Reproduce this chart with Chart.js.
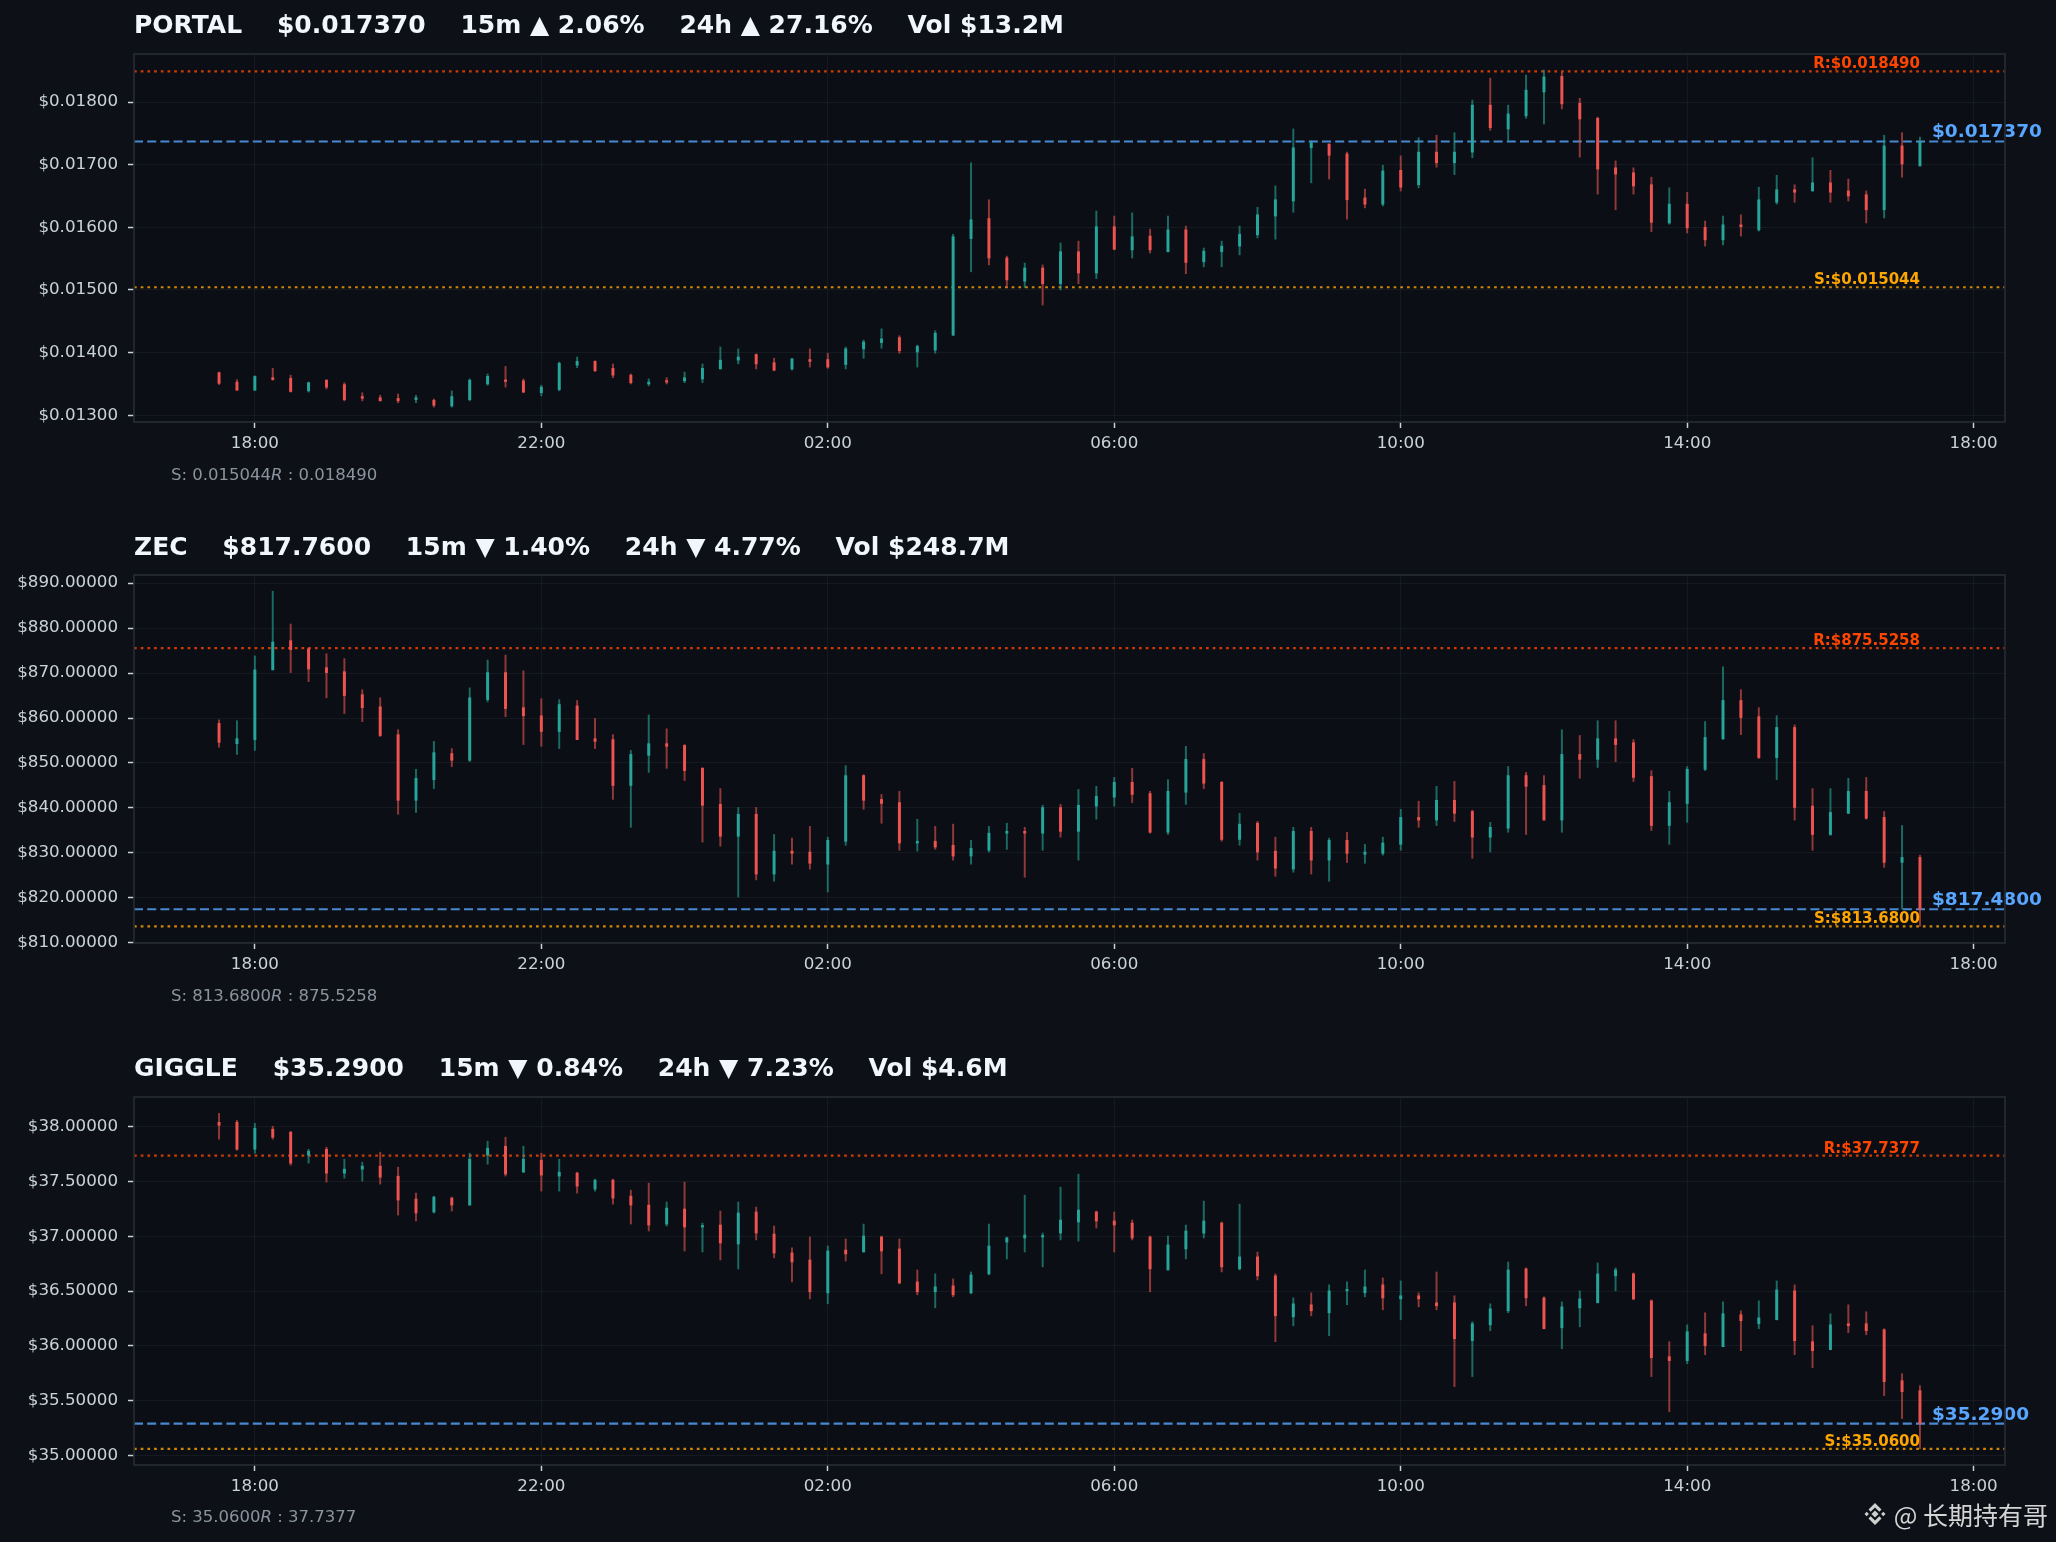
<!DOCTYPE html>
<html><head><meta charset="utf-8">
<script src="https://cdn.jsdelivr.net/npm/chart.js@4.4.1/dist/chart.umd.min.js"></script>
<style>
html,body{margin:0;padding:0;background:#0d1117;}
#root{position:relative;width:2056px;height:1542px;overflow:hidden;background:#0d1117;font-family:'DejaVu Sans',sans-serif;}
canvas{position:absolute;left:0;}
.title{position:absolute;left:134px;font-weight:bold;font-size:25px;line-height:29px;color:#f0f6fc;white-space:pre;}
.foot{position:absolute;left:171px;font-size:16.5px;line-height:19.2px;color:#8b949e;white-space:pre;}
#wm{position:absolute;right:8px;top:1499px;height:30px;display:flex;align-items:center;gap:5px;color:#d4d4d4;font-family:'Noto Sans CJK SC',sans-serif;font-size:25px;line-height:30px;}
</style></head>
<body><div id="root">
<canvas id="c1" width="2056" height="433" style="top:34px"></canvas>
<canvas id="c2" width="2056" height="433" style="top:555px"></canvas>
<canvas id="c3" width="2056" height="433" style="top:1077px"></canvas>
<div class="title" id="t1" style="top:10px"></div>
<div class="title" id="t2" style="top:531.5px"></div>
<div class="title" id="t3" style="top:1052.8px"></div>
<div class="foot" id="f1" style="top:464.7px"></div>
<div class="foot" id="f2" style="top:986px"></div>
<div class="foot" id="f3" style="top:1507.3px"></div>
<div id="wm"><svg width="28" height="28" viewBox="0 0 28 28"><g fill="#cfcfcf"><polygon points="14,10.4 17.6,14 14,17.6 10.4,14"/><polygon points="14,3 20.5,9.5 18.3,11.7 14,7.4 9.7,11.7 7.5,9.5"/><polygon points="14,25 20.5,18.5 18.3,16.3 14,20.6 9.7,16.3 7.5,18.5"/><polygon points="3.5,14 5.7,11.8 7.9,14 5.7,16.2"/><polygon points="24.5,14 22.3,11.8 20.1,14 22.3,16.2"/></g></svg><span>@ 长期持有哥</span></div>
</div>
<script>
// ---------------- DATA ----------------
const symbols = ['PORTAL', 'ZEC', 'GIGGLE'];
const tickerPrices = ['$0.017370', '$817.7600', '$35.2900'];
const change15m = ['▲ 2.06%', '▼ 1.40%', '▼ 0.84%'];
const change24h = ['▲ 27.16%', '▼ 4.77%', '▼ 7.23%'];
const volumes = ['$13.2M', '$248.7M', '$4.6M'];

const supportLevels = [0.015044, 813.68, 35.06];
const resistanceLevels = [0.018490, 875.5258, 37.7377];
const lastPrices = [0.017370, 817.48, 35.29];
const levelDecimals = [6, 4, 4];

// 15-minute candles starting 17:30 (hours since midnight of day 1)
const candleStartHour = 17.5;
const candleStepHour = 0.25;

const xTickValues = [18, 22, 26, 30, 34, 38, 42];
const xTickLabels = ['18:00', '22:00', '02:00', '06:00', '10:00', '14:00', '18:00'];

const portalYTicks = [0.013, 0.014, 0.015, 0.016, 0.017, 0.018];
const zecYTicks = [810, 820, 830, 840, 850, 860, 870, 880, 890];
const giggleYTicks = [35.0, 35.5, 36.0, 36.5, 37.0, 37.5, 38.0];

const portalOpen = [0.01368,0.01353,0.01340,0.01360,0.01359,0.01339,0.01356,0.01349,0.01330,0.01328,
0.01327,0.01325,0.01324,0.01315,0.01325,0.01350,0.01356,0.01355,0.01336,0.01341,
0.01380,0.01386,0.01375,0.01364,0.01350,0.01355,0.01355,0.01358,0.01374,0.01388,
0.01397,0.01384,0.01374,0.01389,0.01389,0.01381,0.01406,0.01416,0.01424,0.01401,
0.01404,0.01428,0.01582,0.01614,0.01551,0.01514,0.01535,0.01510,0.01561,0.01527,
0.01601,0.01564,0.01586,0.01561,0.01596,0.01545,0.01561,0.01570,0.01588,0.01618,
0.01642,0.01727,0.01733,0.01717,0.01647,0.01637,0.01691,0.01668,0.01720,0.01703,
0.01720,0.01795,0.01757,0.01778,0.01816,0.01841,0.01798,0.01774,0.01695,0.01687,
0.01668,0.01607,0.01637,0.01600,0.01580,0.01604,0.01596,0.01640,0.01660,0.01658,
0.01671,0.01658,0.01652,0.01628,0.01730,0.01698];
const portalHigh = [0.01369,0.01357,0.01363,0.01375,0.01364,0.01353,0.01357,0.01352,0.01336,0.01332,
0.01334,0.01332,0.01326,0.01339,0.01358,0.01366,0.01378,0.01358,0.01348,0.01385,
0.01393,0.01387,0.01382,0.01366,0.01358,0.01360,0.01369,0.01382,0.01409,0.01406,
0.01398,0.01391,0.01391,0.01406,0.01399,0.01409,0.01420,0.01438,0.01427,0.01412,
0.01435,0.01589,0.01703,0.01644,0.01554,0.01543,0.01540,0.01575,0.01578,0.01626,
0.01618,0.01623,0.01597,0.01618,0.01602,0.01567,0.01578,0.01602,0.01632,0.01666,
0.01757,0.01738,0.01733,0.01720,0.01661,0.01699,0.01714,0.01743,0.01747,0.01751,
0.01803,0.01838,0.01795,0.01843,0.01851,0.01848,0.01806,0.01776,0.01706,0.01695,
0.01680,0.01663,0.01656,0.01610,0.01618,0.01620,0.01664,0.01683,0.01668,0.01711,
0.01691,0.01677,0.01658,0.01747,0.01751,0.01744];
const portalLow = [0.01349,0.01340,0.01340,0.01356,0.01337,0.01337,0.01342,0.01323,0.01323,0.01323,
0.01320,0.01320,0.01313,0.01313,0.01323,0.01348,0.01345,0.01336,0.01331,0.01339,
0.01376,0.01370,0.01360,0.01350,0.01347,0.01350,0.01352,0.01352,0.01374,0.01382,
0.01374,0.01371,0.01372,0.01377,0.01375,0.01374,0.01391,0.01407,0.01399,0.01377,
0.01399,0.01427,0.01529,0.01540,0.01504,0.01504,0.01476,0.01500,0.01510,0.01518,
0.01564,0.01551,0.01559,0.01561,0.01526,0.01537,0.01537,0.01556,0.01583,0.01581,
0.01624,0.01671,0.01677,0.01613,0.01631,0.01634,0.01658,0.01663,0.01696,0.01684,
0.01711,0.01755,0.01739,0.01774,0.01765,0.01789,0.01712,0.01653,0.01628,0.01653,
0.01593,0.01605,0.01591,0.01570,0.01572,0.01586,0.01594,0.01637,0.01640,0.01658,
0.01640,0.01642,0.01607,0.01615,0.01680,0.01698];
const portalClose = [0.01351,0.01340,0.01362,0.01357,0.01338,0.01352,0.01345,0.01325,0.01327,0.01323,
0.01323,0.01328,0.01316,0.01330,0.01356,0.01362,0.01354,0.01337,0.01345,0.01383,
0.01386,0.01371,0.01364,0.01352,0.01353,0.01353,0.01360,0.01375,0.01388,0.01393,
0.01382,0.01372,0.01390,0.01386,0.01377,0.01406,0.01417,0.01422,0.01403,0.01410,
0.01431,0.01585,0.01612,0.01551,0.01516,0.01535,0.01510,0.01561,0.01527,0.01601,
0.01565,0.01585,0.01564,0.01596,0.01544,0.01562,0.01570,0.01589,0.01620,0.01644,
0.01727,0.01735,0.01715,0.01644,0.01637,0.01690,0.01664,0.01720,0.01703,0.01720,
0.01795,0.01759,0.01781,0.01819,0.01840,0.01797,0.01773,0.01693,0.01685,0.01666,
0.01608,0.01637,0.01599,0.01580,0.01604,0.01601,0.01644,0.01660,0.01656,0.01671,
0.01656,0.01650,0.01628,0.01730,0.01701,0.01737];

const zecOpen = [858.8,854.3,855.2,870.7,877.2,875.4,871.2,870.3,865.2,862.5,
856.3,841.7,846.3,852.1,850.6,864.1,870.1,862.3,860.5,857.0,
862.7,855.4,855.2,845.0,851.7,854.3,853.9,848.8,840.8,833.7,
838.6,825.3,830.4,830.2,827.5,832.6,847.2,841.9,841.2,832.2,
832.6,831.7,829.3,830.6,834.4,834.8,834.4,840.1,834.8,840.4,
842.4,845.7,843.2,834.6,843.5,850.8,845.7,833.0,836.6,830.4,
826.4,834.8,828.4,832.8,829.7,829.9,831.9,837.9,837.3,841.7,
839.2,833.5,835.5,847.2,845.0,837.3,851.9,850.8,855.4,854.5,
847.0,836.1,841.0,848.6,855.4,863.9,860.3,851.2,857.9,840.4,
834.1,838.8,843.7,837.9,827.9,829.0];
const zecHigh = [859.6,859.4,873.8,888.2,880.9,875.6,874.3,873.2,866.3,864.5,
857.4,848.6,854.8,853.2,866.7,872.9,874.0,870.5,864.3,864.1,
863.9,859.9,856.3,852.8,860.7,857.6,854.1,849.0,844.3,840.1,
840.1,834.1,833.3,835.9,833.5,849.4,847.4,843.0,843.7,837.5,
835.9,836.4,832.8,835.9,836.6,835.7,840.6,840.8,844.1,844.8,
846.8,848.8,843.7,846.3,853.7,852.1,845.9,838.8,837.0,833.5,
835.7,835.7,833.3,834.6,831.9,833.5,839.7,841.5,844.8,845.9,
839.5,836.8,849.2,847.9,847.2,857.4,856.1,859.4,859.4,855.2,
848.3,843.7,849.2,859.2,871.4,866.3,862.3,860.5,858.5,844.3,
844.3,846.6,846.8,839.2,836.1,829.5];
const zecLow = [853.5,851.9,852.8,870.7,870.1,868.1,864.5,861.0,859.2,855.9,
838.6,839.0,844.3,849.2,850.3,863.6,860.3,854.1,853.7,853.2,
855.2,853.2,841.9,835.7,847.9,848.8,846.1,832.4,831.5,820.2,
824.0,823.7,827.5,826.4,821.3,831.7,839.7,836.6,830.6,830.4,
830.8,828.4,827.5,830.2,830.8,824.6,830.6,833.5,828.4,837.5,
840.4,841.2,834.4,834.1,840.8,844.3,832.6,831.7,828.4,824.8,
825.7,825.3,823.7,827.9,827.7,829.5,830.6,835.7,836.1,837.0,
828.8,830.2,834.6,834.1,837.3,834.6,846.6,849.0,850.3,845.9,
835.0,831.9,836.8,848.3,855.2,856.3,851.0,846.3,837.3,830.6,
833.9,838.8,837.5,826.8,817.5,813.68];
const zecClose = [854.6,855.4,870.7,876.9,875.2,870.9,870.1,865.0,862.3,856.1,
841.7,846.6,852.3,850.6,864.5,870.1,862.1,860.5,857.0,863.0,
855.2,854.8,845.0,851.9,854.3,853.7,848.3,840.6,833.7,838.6,
825.3,830.4,829.9,827.7,832.8,847.2,841.7,841.0,832.2,832.6,
831.3,829.3,831.0,834.4,834.8,834.4,840.1,834.8,840.6,842.6,
845.7,843.0,834.6,843.7,850.8,845.5,833.0,836.4,830.2,826.6,
834.8,828.4,832.8,829.9,830.2,832.2,837.9,837.3,841.7,838.8,
833.5,835.7,847.2,844.8,837.3,851.9,850.8,855.4,854.1,846.8,
836.1,841.2,848.6,855.7,863.9,860.1,851.2,857.9,840.1,834.1,
839.0,843.7,837.7,827.9,829.0,817.48];

const giggleOpen = [38.041,38.041,37.795,37.978,37.950,37.741,37.795,37.577,37.613,37.641,
37.549,37.340,37.222,37.349,37.285,37.741,37.823,37.586,37.695,37.550,
37.577,37.431,37.513,37.367,37.285,37.112,37.249,37.085,37.103,36.930,
37.222,37.021,36.848,36.784,36.484,36.875,36.857,36.994,36.885,36.584,
36.493,36.548,36.484,36.657,36.948,36.985,36.994,37.030,37.131,37.222,
37.140,37.121,36.994,36.693,36.885,37.030,37.121,36.703,36.812,36.639,
36.265,36.375,36.302,36.502,36.484,36.557,36.429,36.457,36.393,36.393,
36.047,36.192,36.320,36.703,36.438,36.165,36.347,36.393,36.639,36.657,
36.411,35.901,35.865,36.111,35.992,36.284,36.202,36.238,36.502,36.038,
35.965,36.202,36.202,36.147,35.682,35.591];
const giggleHigh = [38.123,38.059,38.032,38.005,37.959,37.795,37.814,37.704,37.677,37.768,
37.631,37.395,37.367,37.358,37.759,37.868,37.905,37.823,37.759,37.704,
37.586,37.522,37.522,37.422,37.486,37.313,37.495,37.121,37.231,37.313,
37.267,37.094,36.894,36.994,36.912,36.976,37.112,37.003,36.976,36.693,
36.657,36.611,36.675,37.112,36.994,37.376,37.030,37.449,37.568,37.231,
37.222,37.149,37.003,37.003,37.103,37.322,37.131,37.294,36.857,36.657,
36.438,36.484,36.557,36.584,36.693,36.620,36.593,36.484,36.675,36.457,
36.220,36.384,36.766,36.712,36.447,36.402,36.502,36.757,36.712,36.666,
36.420,36.038,36.192,36.302,36.402,36.320,36.411,36.593,36.557,36.183,
36.293,36.375,36.311,36.156,35.746,35.637];
const giggleLow = [37.887,37.786,37.759,37.887,37.650,37.668,37.495,37.531,37.504,37.477,
37.194,37.140,37.213,37.231,37.285,37.659,37.550,37.586,37.413,37.413,
37.395,37.413,37.294,37.112,37.049,37.094,36.866,36.857,36.784,36.702,
36.967,36.803,36.584,36.429,36.384,36.775,36.857,36.657,36.566,36.466,
36.347,36.447,36.475,36.648,36.793,36.857,36.721,36.967,36.957,37.076,
36.857,36.967,36.493,36.693,36.794,36.985,36.675,36.693,36.602,36.038,
36.183,36.274,36.092,36.375,36.447,36.329,36.238,36.356,36.329,35.628,
35.719,36.138,36.302,36.365,36.156,35.974,36.174,36.393,36.502,36.420,
35.719,35.400,35.837,35.919,35.992,35.956,36.156,36.238,35.919,35.801,
35.965,36.120,36.101,35.546,35.336,35.060];
const giggleClose = [38.014,37.795,37.987,37.905,37.668,37.777,37.577,37.613,37.641,37.540,
37.331,37.213,37.358,37.285,37.704,37.805,37.568,37.704,37.559,37.586,
37.458,37.513,37.349,37.285,37.103,37.258,37.085,37.094,36.939,37.213,
37.030,36.848,36.766,36.493,36.866,36.839,37.003,36.866,36.575,36.493,
36.539,36.466,36.648,36.912,36.985,37.012,37.003,37.149,37.240,37.140,
37.103,36.985,36.703,36.921,37.049,37.140,36.721,36.812,36.639,36.274,
36.384,36.320,36.502,36.511,36.539,36.438,36.457,36.429,36.366,36.065,
36.202,36.338,36.693,36.438,36.156,36.356,36.429,36.657,36.693,36.429,
35.892,35.865,36.129,36.001,36.293,36.229,36.256,36.511,36.047,35.956,
36.192,36.183,36.138,35.673,35.582,35.290];

// ---------------- STYLE ----------------
const PLOT_BG = '#0b0f15';
const SPINE = '#262b33';
const GRID = 'rgba(48,54,61,0.3)';
const TICK_COLOR = '#c9d1d9';
const UP = '#26a69a', DOWN = '#ef5350';
const UP_WICK = 'rgba(38,166,154,0.6)', DOWN_WICK = 'rgba(239,83,80,0.6)';
const FONT = "'DejaVu Sans'";

const candleTimes = portalOpen.map((_, i) => candleStartHour + i * candleStepHour);
const xMin = candleTimes[0] - 0.05 * (candleTimes[candleTimes.length - 1] - candleTimes[0]);
const xMax = candleTimes[candleTimes.length - 1] + 0.05 * (candleTimes[candleTimes.length - 1] - candleTimes[0]);

const panels = [
  {id: 'c1', o: portalOpen, h: portalHigh, l: portalLow, c: portalClose, yMin: 0.012893, yMax: 0.018766, yTicks: portalYTicks},
  {id: 'c2', o: zecOpen, h: zecHigh, l: zecLow, c: zecClose, yMin: 809.97, yMax: 891.8, yTicks: zecYTicks},
  {id: 'c3', o: giggleOpen, h: giggleHigh, l: giggleLow, c: giggleClose, yMin: 34.912, yMax: 38.272, yTicks: giggleYTicks}
];

// text
symbols.forEach((s, i) => {
  document.getElementById('t' + (i + 1)).textContent =
    s + '    ' + tickerPrices[i] + '    15m ' + change15m[i] + '    24h ' + change24h[i] + '    Vol ' + volumes[i];
  const f = document.getElementById('f' + (i + 1));
  f.innerHTML = 'S: ' + supportLevels[i].toFixed(levelDecimals[i]) + '<i>R</i> : ' + resistanceLevels[i].toFixed(levelDecimals[i]);
});

function levelsPlugin(idx) {
  const dec = levelDecimals[idx];
  return {
    id: 'levels' + idx,
    beforeDraw(chart) {
      const a = chart.chartArea, ctx = chart.ctx;
      ctx.save();
      ctx.fillStyle = PLOT_BG;
      ctx.fillRect(a.left, a.top, a.right - a.left, a.bottom - a.top);
      ctx.restore();
    },
    beforeDatasetsDraw(chart) {
      const a = chart.chartArea, ctx = chart.ctx, ys = chart.scales.y;
      const lines = [
        [resistanceLevels[idx], 'rgba(255,69,0,0.8)', [2.7, 4]],
        [supportLevels[idx], 'rgba(255,165,0,0.8)', [2.7, 4]],
        [lastPrices[idx], 'rgba(88,166,255,0.8)', [9, 4.2]]
      ];
      ctx.save();
      ctx.beginPath(); ctx.rect(a.left, a.top, a.right - a.left, a.bottom - a.top); ctx.clip();
      lines.forEach(([v, col, dash]) => {
        const y = ys.getPixelForValue(v);
        ctx.strokeStyle = col; ctx.lineWidth = 2.2; ctx.setLineDash(dash);
        ctx.beginPath(); ctx.moveTo(a.left, y); ctx.lineTo(a.right, y); ctx.stroke();
      });
      ctx.restore();
    },
    afterDatasetsDraw(chart) {
      const ctx = chart.ctx, ys = chart.scales.y, xs = chart.scales.x;
      const lastX = xs.getPixelForValue(candleTimes[candleTimes.length - 1]);
      ctx.save();
      ctx.textBaseline = 'alphabetic';
      ctx.font = 'bold 15px ' + FONT;
      ctx.textAlign = 'right';
      ctx.fillStyle = '#ff4500';
      ctx.fillText('R:$' + resistanceLevels[idx].toFixed(dec), lastX, ys.getPixelForValue(resistanceLevels[idx]) - 3);
      ctx.fillStyle = '#ffa500';
      ctx.fillText('S:$' + supportLevels[idx].toFixed(dec), lastX, ys.getPixelForValue(supportLevels[idx]) - 3);
      ctx.font = 'bold 18.5px ' + FONT;
      ctx.textAlign = 'left';
      ctx.fillStyle = '#58a6ff';
      ctx.fillText('$' + lastPrices[idx].toFixed(dec), lastX + 12, ys.getPixelForValue(lastPrices[idx]) - 4);
      ctx.restore();
    },
    afterDraw(chart) {
      const a = chart.chartArea, ctx = chart.ctx;
      ctx.save();
      ctx.strokeStyle = SPINE; ctx.lineWidth = 1.7;
      ctx.strokeRect(a.left, a.top, a.right - a.left, a.bottom - a.top);
      ctx.restore();
    }
  };
}

panels.forEach((p, idx) => {
  const up = p.c.map((c, i) => c >= p.o[i]);
  const wickData = candleTimes.map((t, i) => ({x: t, y: [p.l[i], p.h[i]]}));
  const bodyData = candleTimes.map((t, i) => ({x: t, y: [p.o[i], p.c[i]]}));
  new Chart(document.getElementById(p.id), {
    type: 'bar',
    data: {
      datasets: [
        {data: wickData, backgroundColor: up.map(u => u ? UP_WICK : DOWN_WICK), barThickness: 1.3, grouped: false, order: 2, borderWidth: 0},
        {data: bodyData, backgroundColor: up.map(u => u ? UP : DOWN), barThickness: 2.3, grouped: false, order: 1, borderWidth: 0, minBarLength: 1.5}
      ]
    },
    options: {
      responsive: false,
      animation: false,
      events: [],
      layout: {padding: {left: 0, right: 51, top: 20, bottom: 0}},
      plugins: {legend: {display: false}, tooltip: {enabled: false}, title: {display: false}},
      scales: {
        x: {
          type: 'linear', min: xMin, max: xMax, offset: false,
          grid: {color: GRID, lineWidth: 1, offset: false, drawTicks: true, tickColor: TICK_COLOR, tickLength: 6, tickWidth: 1.5},
          border: {display: false},
          ticks: {color: TICK_COLOR, font: {family: 'DejaVu Sans', size: 16.7}, padding: 6, autoSkip: false, maxRotation: 0, minRotation: 0,
            callback: (v) => { const k = xTickValues.indexOf(v); return k >= 0 ? xTickLabels[k] : ''; }},
          afterBuildTicks: (s) => { s.ticks = xTickValues.map(v => ({value: v})); },
          afterFit: (s) => { s.height = 45; }
        },
        y: {
          type: 'linear', min: p.yMin, max: p.yMax,
          grid: {color: GRID, lineWidth: 1, drawTicks: true, tickColor: TICK_COLOR, tickLength: 6, tickWidth: 1.5},
          border: {display: false},
          ticks: {color: TICK_COLOR, font: {family: 'DejaVu Sans', size: 16.7}, padding: 10, autoSkip: false,
            callback: (v) => '$' + Number(v).toFixed(5)},
          afterBuildTicks: (s) => { s.ticks = p.yTicks.map(v => ({value: v})); },
          afterFit: (s) => { s.width = 134; }
        }
      }
    },
    plugins: [levelsPlugin(idx)]
  });
});
</script>
</body></html>
